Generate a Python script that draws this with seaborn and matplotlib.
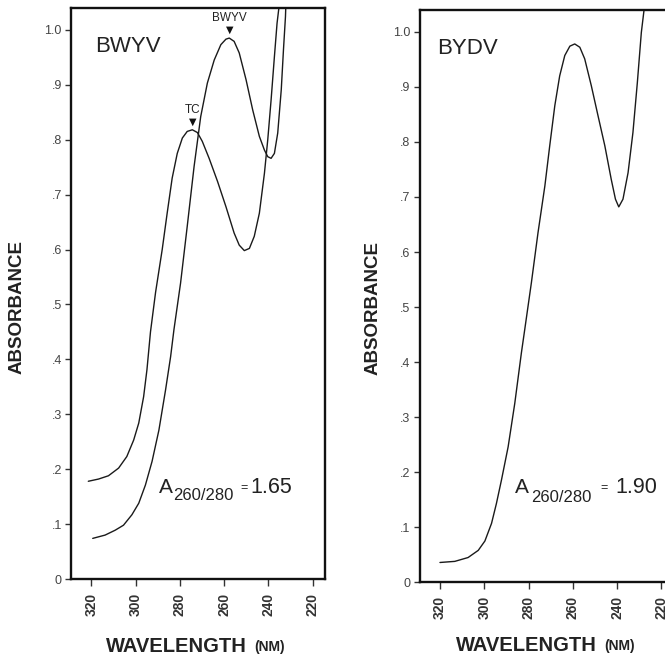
import matplotlib
matplotlib.use('Agg')
import matplotlib.pyplot as plt
import seaborn as sns
import pandas as pd

# Curvas de absorbancia (longitud de onda en nm, absorbancia)
tc_wl = [321.4, 316.8, 312.3, 307.7, 304.0, 300.9, 298.6, 296.4, 294.9, 293.3,
         291.0, 288.0, 285.8, 283.5, 281.2, 278.9, 276.7, 274.4, 272.1, 269.9,
         266.8, 263.0, 259.2, 255.5, 253.2, 250.9, 248.6, 246.4, 244.1, 241.8,
         240.3, 238.8, 237.3, 236.1, 235.3, 235.0]
tc_abs = [0.178, 0.182, 0.188, 0.202, 0.223, 0.253, 0.284, 0.332, 0.381, 0.450,
          0.522, 0.600, 0.665, 0.730, 0.775, 0.803, 0.815, 0.818, 0.813, 0.797,
          0.766, 0.724, 0.678, 0.630, 0.608, 0.598, 0.602, 0.624, 0.666, 0.739,
          0.800, 0.872, 0.951, 1.012, 1.039, 1.060]

bwyv_wl = [319.4, 313.8, 309.2, 305.5, 301.7, 298.6, 295.6, 292.6, 289.5, 286.5,
           284.2, 282.7, 279.7, 276.7, 273.6, 270.6, 267.6, 264.5, 261.5, 259.2,
           257.7, 255.5, 253.2, 250.1, 247.1, 244.1, 241.8, 240.3, 238.8, 237.3,
           235.8, 234.2, 233.2, 232.3, 232.0]
bwyv_abs = [0.074, 0.080, 0.089, 0.098, 0.117, 0.138, 0.171, 0.214, 0.271, 0.344,
            0.405, 0.454, 0.539, 0.642, 0.751, 0.842, 0.903, 0.945, 0.973, 0.983,
            0.985, 0.979, 0.958, 0.909, 0.854, 0.806, 0.781, 0.769, 0.766, 0.775,
            0.812, 0.891, 0.964, 1.024, 1.060]

bydv_wl = [320.1, 313.4, 307.4, 302.8, 299.8, 296.8, 294.6, 292.3, 289.3, 286.3,
           283.3, 281.8, 278.8, 275.8, 272.7, 270.5, 268.2, 266.0, 263.7, 261.4,
           259.2, 256.9, 254.7, 251.7, 248.7, 245.6, 242.7, 240.8, 239.3, 237.4,
           235.1, 232.9, 230.9, 229.1, 227.9, 227.7]
bydv_abs = [0.036, 0.038, 0.045, 0.058, 0.075, 0.107, 0.143, 0.186, 0.246, 0.325,
            0.417, 0.459, 0.544, 0.635, 0.720, 0.793, 0.866, 0.920, 0.957, 0.974,
            0.978, 0.972, 0.951, 0.902, 0.848, 0.793, 0.732, 0.696, 0.682, 0.696,
            0.744, 0.817, 0.908, 0.999, 1.039, 1.060]

# Picos marcados en el panel BWYV
peak_names = ['TC', 'BWYV']
peak_wl = [274.4, 257.7]
peak_abs = [0.818, 0.985]

ratio_left = '1.65'
ratio_right = '1.90'

x_ticks = [320, 300, 280, 260, 240, 220]
y_ticks = [0, 0.1, 0.2, 0.3, 0.4, 0.5, 0.6, 0.7, 0.8, 0.9, 1.0]
y_labels = ['0', '.1', '.2', '.3', '.4', '.5', '.6', '.7', '.8', '.9', '1.0']

sns.set_style('ticks')
plt.rcParams['font.family'] = ['Liberation Sans', 'DejaVu Sans']
ink = '#222222'

fig = plt.figure(figsize=(6.65, 6.55), dpi=100)
ax1 = fig.add_axes([0.1075, 0.116, 0.381, 0.872])
ax2 = fig.add_axes([0.632, 0.111, 0.381, 0.874])


def style_panel(ax, title, title_x):
    ax.set_xlim(329, 214.5)
    ax.set_ylim(0, 1.04)
    ax.set_xticks(x_ticks)
    ax.set_xticklabels([str(t) for t in x_ticks], rotation=90, fontsize=10,
                       color='#333333', fontweight='bold')
    ax.set_yticks(y_ticks)
    ax.set_yticklabels(y_labels, fontsize=9, color='#444444')
    ax.tick_params(direction='out', length=4, width=1, pad=3, color='#333333')
    ax.tick_params(axis='x', length=5, pad=5)
    for s in ax.spines.values():
        s.set_linewidth(1.7)
        s.set_color('#111111')
        s.set_visible(True)

    ax.text(title_x, 0.932, title, transform=ax.transAxes, fontsize=16,
            va='center', ha='left', color=ink)

    ax.set_ylabel('ABSORBANCE', fontsize=13.5, fontweight='bold', color=ink)
    ax.set_xlabel('WAVELENGTH', fontsize=14.5, fontweight='bold', color=ink)
    ax.xaxis.label.set_va('top')
    ax.annotate('(NM)', xy=(1, 0.1), xycoords=ax.xaxis.label, xytext=(5, 0),
                textcoords='offset points', fontsize=10, fontweight='bold',
                ha='left', va='bottom', color=ink)


def ratio_label(ax, ratio, x_a, x_sub, x_eq, x_num, y_base, y_sub):
    ax.text(x_a, y_base, 'A', fontsize=15, ha='left', va='baseline', color=ink)
    ax.text(x_sub, y_sub, '260/280', fontsize=12, ha='left', va='baseline', color=ink)
    ax.text(x_eq, y_base + 0.004, '=', fontsize=9, ha='left', va='baseline', color=ink)
    ax.text(x_num, y_base, ratio, fontsize=15.5, ha='left', va='baseline', color=ink)


sns.lineplot(x=tc_wl, y=tc_abs, ax=ax1, color='#1a1a1a', lw=1.0, sort=False)
sns.lineplot(x=bwyv_wl, y=bwyv_abs, ax=ax1, color='#1a1a1a', lw=1.0, sort=False)
sns.lineplot(x=bydv_wl, y=bydv_abs, ax=ax2, color='#1a1a1a', lw=1.0, sort=False)

style_panel(ax1, 'BWYV', 0.095)
style_panel(ax2, 'BYDV', 0.067)
ratio_label(ax1, ratio_left, 289.5, 282.9, 252.6, 248.0, 0.157, 0.143)
ratio_label(ax2, ratio_right, 286.1, 278.7, 247.8, 241.0, 0.162, 0.146)

ax1.yaxis.set_label_coords(-0.18, 0.476)
ax2.yaxis.set_label_coords(-0.152, 0.479)
ax1.xaxis.set_label_coords(0.415, -0.101)
ax2.xaxis.set_label_coords(0.42, -0.093)

for name, wl, a in zip(peak_names, peak_wl, peak_abs):
    ax1.annotate('\u25BC', xy=(wl, a), xytext=(0, 6), textcoords='offset points',
                 ha='center', va='center', fontsize=7, color='#111111',
                 family=['DejaVu Sans'])
    ax1.annotate(name, xy=(wl, a), xytext=(0, 14.5), textcoords='offset points',
                 ha='center', va='center', fontsize=8.5, color=ink)

fig.savefig('out.png', dpi=100)
